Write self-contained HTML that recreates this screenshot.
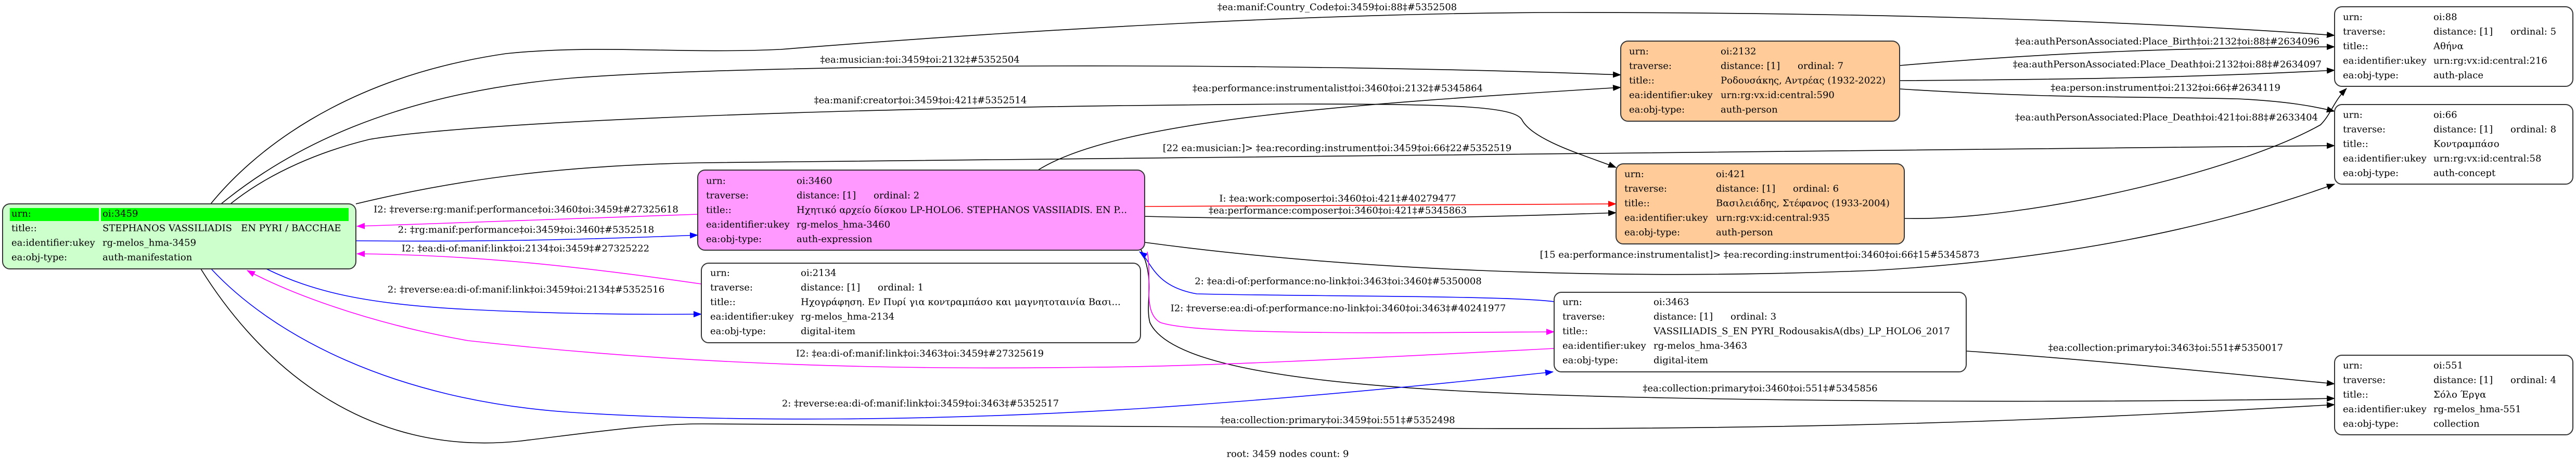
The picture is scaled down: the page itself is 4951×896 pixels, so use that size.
<!DOCTYPE html>
<html><head><meta charset="utf-8"><style>
html,body{margin:0;padding:0;background:#fff;}
svg{display:block;}
text{font-family:"DejaVu Serif","Liberation Serif",serif;font-size:18px;fill:#000;}
</style></head><body>
<svg width="4951" height="896" viewBox="0 0 4951 896" xmlns="http://www.w3.org/2000/svg">
<defs>
<marker id="ak" markerWidth="16" markerHeight="12" refX="15" refY="6" orient="auto" markerUnits="userSpaceOnUse"><path d="M0,0 L16,6 L0,12 z" fill="#000"/></marker>
<marker id="ab" markerWidth="16" markerHeight="12" refX="15" refY="6" orient="auto" markerUnits="userSpaceOnUse"><path d="M0,0 L16,6 L0,12 z" fill="#0000ff"/></marker>
<marker id="am" markerWidth="16" markerHeight="12" refX="15" refY="6" orient="auto" markerUnits="userSpaceOnUse"><path d="M0,0 L16,6 L0,12 z" fill="#ff00ff"/></marker>
<marker id="ar" markerWidth="16" markerHeight="12" refX="15" refY="6" orient="auto" markerUnits="userSpaceOnUse"><path d="M0,0 L16,6 L0,12 z" fill="#ff0000"/></marker>
</defs>
<g fill="none" stroke-width="1.6">
<path stroke="#000" marker-end="url(#ak)" d="M405,392 C480,300 650,150 973,103 C1150,85 1300,104 1500,95 C1900,63 2500,25 3000,24 C3600,24 4100,40 4487,68"/>
<path stroke="#000" marker-end="url(#ak)" d="M425,392 C550,290 750,180 1100,150 C1500,120 2500,120 3115,144"/>
<path stroke="#000" marker-end="url(#ak)" d="M443,392 C520,330 620,290 710,268 C900,235 1600,205 2500,200 C2800,200 2910,205 2925,230 C2945,270 3050,300 3106,322"/>
<path stroke="#000" marker-end="url(#ak)" d="M684,392 C900,340 1100,318 1345,313 C2500,300 3500,290 4487,280"/>
<path stroke="#000" marker-end="url(#ak)" d="M1995,327 C2150,230 2600,200 3115,168"/>
<path stroke="#ff0000" marker-end="url(#ar)" d="M2200,397 L3106,392"/>
<path stroke="#000" marker-end="url(#ak)" d="M2200,416 C2500,424 2800,420 3106,409"/>
<path stroke="#000" marker-end="url(#ak)" d="M2200,466 C2600,520 3100,540 3600,520 C3950,500 4250,440 4487,354"/>
<path stroke="#000" marker-end="url(#ak)" d="M2192,478 C2222,540 2200,580 2210,620 C2260,730 2700,755 3200,765 C3700,775 4200,772 4487,766"/>
<path stroke="#000" marker-end="url(#ak)" d="M386,517 C500,700 700,880 1000,848 C1150,830 1250,815 1350,815 C2000,818 2500,820 2850,824 C3600,826 4100,800 4487,778"/>
<path stroke="#000" marker-end="url(#ak)" d="M3779,675 C4000,690 4250,715 4487,738"/>
<path stroke="#000" marker-end="url(#ak)" d="M3651,126 C3950,100 4200,92 4487,90"/>
<path stroke="#000" marker-end="url(#ak)" d="M3651,155 C3950,153 4200,150 4487,135"/>
<path stroke="#000" marker-end="url(#ak)" d="M3651,171 C3950,190 4100,185 4300,190 C4400,195 4450,205 4487,214"/>
<path stroke="#000" marker-end="url(#ak)" d="M3660,420 C3900,425 4300,330 4460,240 C4480,220 4485,195 4510,170"/>
<path stroke="#0000ff" marker-end="url(#ab)" d="M2987,580 C2900,568 2500,570 2300,565 C2215,550 2213,500 2190,484"/>
<path stroke="#ff00ff" marker-end="url(#am)" d="M2205,484 C2215,540 2195,600 2230,620 C2300,645 2700,640 2987,638"/>
<path stroke="#ff00ff" marker-end="url(#am)" d="M2987,670 C2600,690 2300,705 2100,706 C1700,712 1300,700 900,655 C700,620 550,560 475,520"/>
<path stroke="#0000ff" marker-end="url(#ab)" d="M406,517 C520,640 750,770 1100,793 C1400,812 1800,810 2200,785 C2500,765 2800,735 2985,715"/>
<path stroke="#0000ff" marker-end="url(#ab)" d="M512,517 C600,560 700,585 900,595 C1100,605 1250,605 1348,604"/>
<path stroke="#ff00ff" marker-end="url(#am)" d="M1348,546 C1100,510 900,490 686,488"/>
<path stroke="#ff00ff" marker-end="url(#am)" d="M1341,412 C1100,420 900,428 686,435"/>
<path stroke="#0000ff" marker-end="url(#ab)" d="M684,463 C900,465 1100,462 1341,452"/>
</g>
<g dominant-baseline="central" text-anchor="middle">
<text x="2570" y="14">‡ea:manif:Country_Code‡oi:3459‡oi:88‡#5352508</text>
<text x="1768" y="115">‡ea:musician:‡oi:3459‡oi:2132‡#5352504</text>
<text x="1769" y="193">‡ea:manif:creator‡oi:3459‡oi:421‡#5352514</text>
<text x="2571" y="170">‡ea:performance:instrumentalist‡oi:3460‡oi:2132‡#5345864</text>
<text x="2570" y="285">[22 ea:musician:]&gt; ‡ea:recording:instrument‡oi:3459‡oi:66‡22#5352519</text>
<text x="2571" y="382">I: ‡ea:work:composer‡oi:3460‡oi:421‡#40279477</text>
<text x="2571" y="405">‡ea:performance:composer‡oi:3460‡oi:421‡#5345863</text>
<text x="2572" y="541">2: ‡ea:di-of:performance:no-link‡oi:3463‡oi:3460‡#5350008</text>
<text x="2572" y="593">I2: ‡reverse:ea:di-of:performance:no-link‡oi:3460‡oi:3463‡#40241977</text>
<text x="2571" y="808">‡ea:collection:primary‡oi:3459‡oi:551‡#5352498</text>
<text x="2475" y="873">root: 3459 nodes count: 9</text>
<text x="1011" y="403">I2: ‡reverse:rg:manif:performance‡oi:3460‡oi:3459‡#27325618</text>
<text x="1011" y="442">2: ‡rg:manif:performance‡oi:3459‡oi:3460‡#5352518</text>
<text x="1010" y="478">I2: ‡ea:di-of:manif:link‡oi:2134‡oi:3459‡#27325222</text>
<text x="1011" y="557">2: ‡reverse:ea:di-of:manif:link‡oi:3459‡oi:2134‡#5352516</text>
<text x="1768" y="680">I2: ‡ea:di-of:manif:link‡oi:3463‡oi:3459‡#27325619</text>
<text x="1769" y="776">2: ‡reverse:ea:di-of:manif:link‡oi:3459‡oi:3463‡#5352517</text>
<text x="3382" y="490">[15 ea:performance:instrumentalist]&gt; ‡ea:recording:instrument‡oi:3460‡oi:66‡15#5345873</text>
<text x="3383" y="747">‡ea:collection:primary‡oi:3460‡oi:551‡#5345856</text>
</g>
<g dominant-baseline="central" text-anchor="end">
<text x="4458" y="80">‡ea:authPersonAssociated:Place_Birth‡oi:2132‡oi:88‡#2634096</text>
<text x="4462" y="124">‡ea:authPersonAssociated:Place_Death‡oi:2132‡oi:88‡#2634097</text>
<text x="4383" y="169">‡ea:person:instrument‡oi:2132‡oi:66‡#2634119</text>
<text x="4455" y="226">‡ea:authPersonAssociated:Place_Death‡oi:421‡oi:88‡#2633404</text>
<text x="4388" y="669">‡ea:collection:primary‡oi:3463‡oi:551‡#5350017</text>
</g>
<g stroke="#333" stroke-width="2">
<rect x="5" y="392" width="679" height="125" rx="14" fill="#ccffcc"/>
<rect x="1341" y="327" width="859" height="154" rx="14" fill="#ff99ff"/>
<rect x="1348" y="506" width="844" height="153" rx="14" fill="#fff"/>
<rect x="3115" y="79" width="536" height="154" rx="14" fill="#ffcc99"/>
<rect x="3106" y="315" width="554" height="154" rx="14" fill="#ffcc99"/>
<rect x="2987" y="562" width="792" height="153" rx="14" fill="#fff"/>
<rect x="4487" y="13" width="458" height="153" rx="14" fill="#fff"/>
<rect x="4487" y="201" width="458" height="153" rx="14" fill="#fff"/>
<rect x="4487" y="683" width="458" height="153" rx="14" fill="#fff"/>
</g>
<rect x="19" y="400" width="171" height="25" fill="#00ff00"/>
<rect x="194" y="400" width="476" height="25" fill="#00ff00"/>
<g dominant-baseline="central">
<text x="22" y="411">urn:</text><text x="197" y="411">oi:3459</text>
<text x="22" y="439">title::</text><text x="197" y="439" xml:space="preserve">STEPHANOS VASSILIADIS   EN PYRI / BACCHAE</text>
<text x="22" y="467">ea:identifier:ukey</text><text x="197" y="467">rg-melos_hma-3459</text>
<text x="22" y="495">ea:obj-type:</text><text x="197" y="495">auth-manifestation</text>

<text x="1357" y="348">urn:</text><text x="1531" y="348">oi:3460</text>
<text x="1357" y="376">traverse:</text><text x="1531" y="376">distance: [1]</text><text x="1679" y="376">ordinal: 2</text>
<text x="1357" y="404">title::</text><text x="1531" y="404">Ηχητικό αρχείο δίσκου LP-HOLO6. STEPHANOS VASSIIADIS. EN P...</text>
<text x="1357" y="432">ea:identifier:ukey</text><text x="1531" y="432">rg-melos_hma-3460</text>
<text x="1357" y="460">ea:obj-type:</text><text x="1531" y="460">auth-expression</text>

<text x="1365" y="525">urn:</text><text x="1539" y="525">oi:2134</text>
<text x="1365" y="553">traverse:</text><text x="1539" y="553">distance: [1]</text><text x="1687" y="553">ordinal: 1</text>
<text x="1365" y="581">title::</text><text x="1539" y="581">Ηχογράφηση. Εν Πυρί για κοντραμπάσο και μαγνητοταινία Βασι...</text>
<text x="1365" y="609">ea:identifier:ukey</text><text x="1539" y="609">rg-melos_hma-2134</text>
<text x="1365" y="637">ea:obj-type:</text><text x="1539" y="637">digital-item</text>

<text x="3131" y="99">urn:</text><text x="3307" y="99">oi:2132</text>
<text x="3131" y="127">traverse:</text><text x="3307" y="127">distance: [1]</text><text x="3455" y="127">ordinal: 7</text>
<text x="3131" y="155">title::</text><text x="3307" y="155">Ροδουσάκης, Αντρέας (1932-2022)</text>
<text x="3131" y="183">ea:identifier:ukey</text><text x="3307" y="183">urn:rg:vx:id:central:590</text>
<text x="3131" y="211">ea:obj-type:</text><text x="3307" y="211">auth-person</text>

<text x="3122" y="335">urn:</text><text x="3298" y="335">oi:421</text>
<text x="3122" y="363">traverse:</text><text x="3298" y="363">distance: [1]</text><text x="3446" y="363">ordinal: 6</text>
<text x="3122" y="391">title::</text><text x="3298" y="391">Βασιλειάδης, Στέφανος (1933-2004)</text>
<text x="3122" y="419">ea:identifier:ukey</text><text x="3298" y="419">urn:rg:vx:id:central:935</text>
<text x="3122" y="447">ea:obj-type:</text><text x="3298" y="447">auth-person</text>

<text x="3003" y="581">urn:</text><text x="3178" y="581">oi:3463</text>
<text x="3003" y="609">traverse:</text><text x="3178" y="609">distance: [1]</text><text x="3326" y="609">ordinal: 3</text>
<text x="3003" y="637">title::</text><text x="3178" y="637">VASSILIADIS_S_EN PYRI_RodousakisA(dbs)_LP_HOLO6_2017</text>
<text x="3003" y="665">ea:identifier:ukey</text><text x="3178" y="665">rg-melos_hma-3463</text>
<text x="3003" y="693">ea:obj-type:</text><text x="3178" y="693">digital-item</text>

<text x="4503" y="33">urn:</text><text x="4677" y="33">oi:88</text>
<text x="4503" y="61">traverse:</text><text x="4677" y="61">distance: [1]</text><text x="4825" y="61">ordinal: 5</text>
<text x="4503" y="89">title::</text><text x="4677" y="89">Αθήνα</text>
<text x="4503" y="117">ea:identifier:ukey</text><text x="4677" y="117">urn:rg:vx:id:central:216</text>
<text x="4503" y="145">ea:obj-type:</text><text x="4677" y="145">auth-place</text>

<text x="4503" y="221">urn:</text><text x="4677" y="221">oi:66</text>
<text x="4503" y="249">traverse:</text><text x="4677" y="249">distance: [1]</text><text x="4825" y="249">ordinal: 8</text>
<text x="4503" y="277">title::</text><text x="4677" y="277">Κοντραμπάσο</text>
<text x="4503" y="305">ea:identifier:ukey</text><text x="4677" y="305">urn:rg:vx:id:central:58</text>
<text x="4503" y="333">ea:obj-type:</text><text x="4677" y="333">auth-concept</text>

<text x="4503" y="703">urn:</text><text x="4677" y="703">oi:551</text>
<text x="4503" y="731">traverse:</text><text x="4677" y="731">distance: [1]</text><text x="4825" y="731">ordinal: 4</text>
<text x="4503" y="759">title::</text><text x="4677" y="759">Σόλο Έργα</text>
<text x="4503" y="787">ea:identifier:ukey</text><text x="4677" y="787">rg-melos_hma-551</text>
<text x="4503" y="815">ea:obj-type:</text><text x="4677" y="815">collection</text>
</g>
</svg>
</body></html>
